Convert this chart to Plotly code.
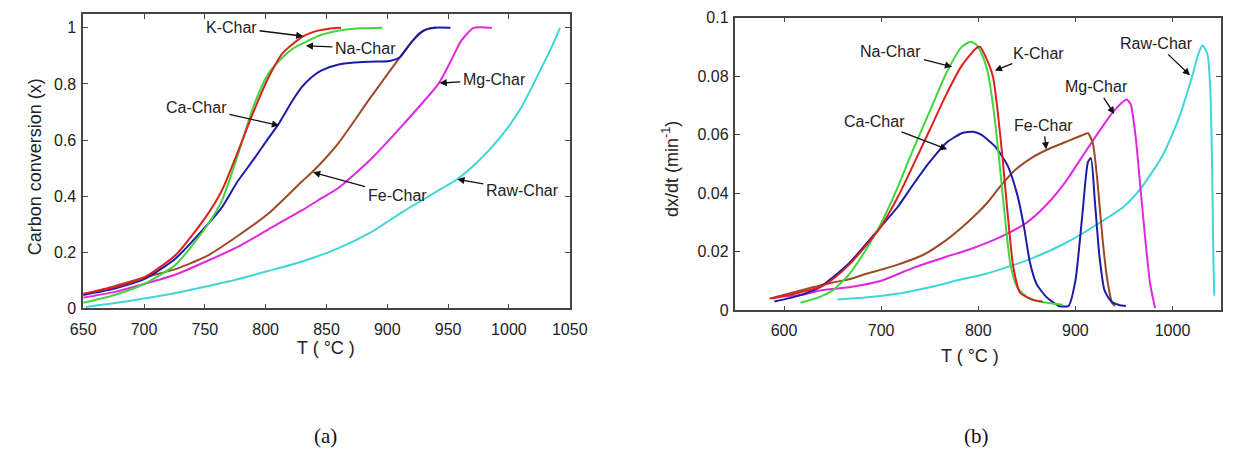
import plotly.graph_objects as go

W, H = 1241, 457

# ---- (a) carbon conversion vs temperature ----
k_T = [650, 675, 700, 726, 751, 764, 777, 790, 802, 814, 831, 843, 852, 862]
k_x = [0.052, 0.075, 0.11, 0.19, 0.327, 0.42, 0.556, 0.70, 0.82, 0.91, 0.97, 0.99, 0.997, 1.0]

na_T = [650, 675, 700, 726, 751, 764, 777, 790, 802, 814, 822, 833, 846, 865, 880, 896]
na_x = [0.02, 0.047, 0.087, 0.156, 0.29, 0.384, 0.545, 0.72, 0.835, 0.895, 0.925, 0.95, 0.975, 0.993, 0.998, 1.0]

ca_T = [650, 675, 700, 726, 751, 764, 777, 790, 802, 810, 822, 830, 838, 846, 860, 873, 886, 902, 910, 920, 930, 938, 952]
ca_x = [0.048, 0.07, 0.104, 0.178, 0.293, 0.36, 0.453, 0.53, 0.605, 0.653, 0.74, 0.79, 0.825, 0.848, 0.869, 0.876, 0.879, 0.882, 0.894, 0.95, 0.99, 1.0, 1.0]

fe_T = [650, 675, 700, 726, 751, 777, 802, 830, 840, 860, 886, 913, 926, 934, 940]
fe_x = [0.05, 0.078, 0.11, 0.14, 0.185, 0.258, 0.337, 0.453, 0.493, 0.59, 0.75, 0.91, 0.98, 0.997, 1.0]

mg_T = [650, 675, 700, 726, 751, 777, 802, 830, 845, 860, 886, 913, 942, 952, 961, 971, 986]
mg_x = [0.038, 0.058, 0.087, 0.121, 0.167, 0.219, 0.281, 0.35, 0.39, 0.43, 0.53, 0.655, 0.80, 0.88, 0.955, 1.0, 1.0]

raw_T = [652, 675, 700, 726, 751, 777, 802, 830, 860, 886, 913, 940, 958, 975, 993, 1010, 1025, 1035, 1042]
raw_x = [0.005, 0.018, 0.035, 0.055, 0.078, 0.104, 0.133, 0.167, 0.215, 0.27, 0.345, 0.415, 0.462, 0.525, 0.61, 0.715, 0.842, 0.93, 1.0]

# ---- (b) conversion rate vs temperature ----
k_Tb = [587, 617, 637, 650, 667, 683, 700, 717, 733, 750, 767, 783, 798, 802, 807, 815, 820, 825, 830, 836, 843, 857, 866]
k_r = [0.004, 0.0062, 0.0079, 0.0106, 0.0156, 0.0216, 0.0287, 0.0386, 0.0496, 0.0616, 0.0737, 0.0836, 0.0896, 0.090, 0.087, 0.080, 0.068, 0.052, 0.034, 0.015, 0.006, 0.0035, 0.003]

na_Tb = [617, 637, 650, 667, 683, 700, 717, 733, 750, 767, 783, 792, 798, 803, 810, 816, 822, 828, 833, 840, 850, 863, 887]
na_r = [0.0026, 0.0046, 0.0068, 0.0123, 0.020, 0.0298, 0.042, 0.055, 0.068, 0.081, 0.090, 0.0918, 0.0907, 0.088, 0.081, 0.068, 0.05, 0.03, 0.016, 0.008, 0.0046, 0.003, 0.0019]

ca_Tb = [590, 617, 637, 650, 667, 683, 700, 717, 733, 750, 767, 783, 795, 803, 817, 830, 840, 847, 853, 860, 870, 883, 893, 900, 907, 913, 916, 920, 925, 930, 937, 945, 952]
ca_r = [0.003, 0.0052, 0.0079, 0.0112, 0.0161, 0.0221, 0.0287, 0.0353, 0.043, 0.0507, 0.0572, 0.0605, 0.061, 0.060, 0.0561, 0.0496, 0.0397, 0.0287, 0.0167, 0.009, 0.0046, 0.0015, 0.0015, 0.0101, 0.032, 0.0507, 0.052, 0.0375, 0.0178, 0.0068, 0.003, 0.0018, 0.0015]

fe_Tb = [585, 617, 650, 667, 683, 700, 717, 743, 767, 783, 800, 810, 823, 840, 857, 873, 890, 907, 913, 918, 923, 928, 933, 938, 941]
fe_r = [0.004, 0.0068, 0.0095, 0.0106, 0.0123, 0.0139, 0.0156, 0.0189, 0.024, 0.0283, 0.0335, 0.037, 0.0425, 0.0485, 0.0525, 0.0552, 0.0575, 0.0598, 0.0605, 0.057, 0.043, 0.0243, 0.0101, 0.0024, 0.0015]

mg_Tb = [593, 617, 637, 667, 700, 733, 767, 790, 810, 830, 850, 870, 890, 910, 930, 940, 950, 953, 957, 962, 967, 972, 977, 982]
mg_r = [0.0046, 0.0052, 0.0068, 0.0079, 0.0101, 0.0145, 0.0183, 0.0207, 0.0232, 0.0262, 0.030, 0.036, 0.044, 0.054, 0.0638, 0.0682, 0.0715, 0.072, 0.0704, 0.0594, 0.0419, 0.0243, 0.009, 0.0008]

raw_Tb = [655, 683, 717, 750, 783, 800, 823, 857, 890, 923, 950, 967, 990, 1007, 1020, 1027, 1031, 1036, 1039, 1041, 1042, 1043]
raw_r = [0.0037, 0.0044, 0.0057, 0.0079, 0.0106, 0.0118, 0.014, 0.018, 0.023, 0.0295, 0.0355, 0.0415, 0.053, 0.066, 0.0797, 0.088, 0.0905, 0.0875, 0.075, 0.045, 0.02, 0.005]

COLORS = {
    "Fe-Char": "#9c4a26",
    "Mg-Char": "#e028e0",
    "Raw-Char": "#3fd6d6",
    "Ca-Char": "#1c1ca6",
    "Na-Char": "#3fd63f",
    "K-Char": "#dc2020",
}

series_a = [("Raw-Char", raw_T, raw_x), ("Mg-Char", mg_T, mg_x), ("Fe-Char", fe_T, fe_x),
            ("Ca-Char", ca_T, ca_x), ("Na-Char", na_T, na_x), ("K-Char", k_T, k_x)]
series_b = [("Raw-Char", raw_Tb, raw_r), ("Mg-Char", mg_Tb, mg_r), ("Fe-Char", fe_Tb, fe_r),
            ("Ca-Char", ca_Tb, ca_r), ("Na-Char", na_Tb, na_r), ("K-Char", k_Tb, k_r)]

fig = go.Figure()
for name, t, v in series_a:
    fig.add_trace(go.Scatter(x=t, y=v, mode="lines", name=name, xaxis="x", yaxis="y",
                             line=dict(color=COLORS[name], width=2, shape="spline", smoothing=0.6)))
for name, t, v in series_b:
    fig.add_trace(go.Scatter(x=t, y=v, mode="lines", name=name, xaxis="x2", yaxis="y2",
                             line=dict(color=COLORS[name], width=2, shape="spline", smoothing=0.6)))

# label text centre and arrow tip (data coordinates)
labels_a = [
    ("K-Char", (772, 1.002), (831, 0.97)),
    ("Na-Char", (882, 0.927), (833, 0.936)),
    ("Ca-Char", (743, 0.717), (811, 0.652)),
    ("Fe-Char", (908, 0.402), (839, 0.485)),
    ("Mg-Char", (988, 0.814), (943, 0.803)),
    ("Raw-Char", (1011, 0.419), (957.6, 0.46)),
]
labels_b = [
    ("Na-Char", (710, 0.0885), (773, 0.0832)),
    ("K-Char", (862, 0.0878), (817, 0.0819)),
    ("Ca-Char", (693, 0.0645), (768, 0.055)),
    ("Fe-Char", (867, 0.0632), (870, 0.055)),
    ("Mg-Char", (922, 0.0763), (940, 0.0671)),
    ("Raw-Char", (984, 0.0911), (1018, 0.0803)),
]

LABEL_FONT = dict(family="Liberation Sans, Arial, sans-serif", size=16, color="#222")
annotations = []
for labels, xr, yr in ((labels_a, "x", "y"), (labels_b, "x2", "y2")):
    for text, (tx, ty), (px, py) in labels:
        annotations.append(dict(x=px, y=py, xref=xr, yref=yr, ax=tx, ay=ty, axref=xr, ayref=yr,
                                text=text, font=LABEL_FONT, showarrow=True, arrowhead=2,
                                arrowsize=1.1, arrowwidth=1.3, arrowcolor="#111", standoff=0,
                                startstandoff=1))

TITLE_FONT = dict(family="Liberation Sans, Arial, sans-serif", size=18, color="#222")


def paper(px, py):
    return px / W, 1 - py / H


for text, (px, py), angle in [
    ("T ( °C )", (321, 353), 0),
    ("T ( °C )", (982, 361), 0),
    ("Carbon conversion (x)", (22, 165), -90),
    ("dx/dt (min<sup>-1</sup>)", (675, 167), -90),
]:
    x, y = paper(px, py)
    annotations.append(dict(x=x, y=y, xref="paper", yref="paper", text=text, showarrow=False,
                            textangle=angle, font=TITLE_FONT, xanchor="center", yanchor="middle"))

for text, (px, py) in [("(a)", (321, 445)), ("(b)", (988, 445))]:
    x, y = paper(px, py)
    annotations.append(dict(x=x, y=y, xref="paper", yref="paper", text=text, showarrow=False,
                            font=dict(family="Liberation Serif, Times New Roman, serif", size=21, color="#111"),
                            xanchor="center", yanchor="middle"))

axis_common = dict(showline=True, linecolor="#444", linewidth=1.5, mirror="ticks", ticks="inside",
                   ticklen=5, tickwidth=1.2, tickcolor="#444", showgrid=False, zeroline=False,
                   tickfont=dict(family="Liberation Sans, Arial, sans-serif", size=16, color="#222"))

fig.update_layout(
    width=W, height=H, margin=dict(l=0, r=0, t=0, b=0),
    paper_bgcolor="white", plot_bgcolor="white", showlegend=False,
    xaxis=dict(domain=[72 / W, 571 / W], range=[650, 1050], tickvals=list(range(650, 1051, 50)),
               anchor="y", ticklabelstandoff=6, **axis_common),
    yaxis=dict(domain=[1 - 312 / H, 1 - 6 / H], range=[0, 1.05], tickvals=[0, 0.2, 0.4, 0.6, 0.8, 1],
               anchor="x", ticklabelstandoff=2, **axis_common),
    xaxis2=dict(domain=[741 / W, 1239 / W], range=[550, 1050], tickvals=[600, 700, 800, 900, 1000],
                anchor="y2", ticklabelstandoff=5, **axis_common),
    yaxis2=dict(domain=[1 - 314 / H, 1 - 10 / H], range=[0, 0.1], tickvals=[0, 0.02, 0.04, 0.06, 0.08, 0.1],
                anchor="x2", ticklabelstandoff=2, **axis_common),
    annotations=annotations,
)

fig.write_html("out.html")
